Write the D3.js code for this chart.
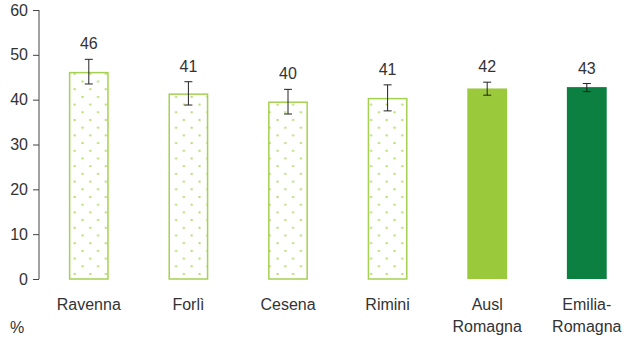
<!DOCTYPE html>
<html><head><meta charset="utf-8">
<script src="https://cdn.jsdelivr.net/npm/d3@7"></script>
<style>body{margin:0;background:#fff}svg{display:block;font-family:"Liberation Sans",Arial,sans-serif}</style>
</head><body>
<svg id="c" width="624" height="342"></svg>
<script>
const categories = ["Ravenna", "Forlì", "Cesena", "Rimini", "Ausl\nRomagna", "Emilia-\nRomagna"];
const values = [46.2, 41.4, 39.6, 40.4, 42.5, 42.8];
const labels = ["46", "41", "40", "41", "42", "43"];
const errLow = [43.5, 38.8, 36.8, 37.5, 41.0, 41.8];
const errHigh = [49.0, 44.0, 42.3, 43.3, 43.9, 43.6];
const styles = ["dots", "dots", "dots", "dots", "light", "dark"];
const yTicks = [0, 10, 20, 30, 40, 50, 60];

const svg = d3.select("#c");
const y = d3.scaleLinear().domain([0, 60]).range([279, 10]);
const x = d3.scaleBand().domain(categories).range([39, 636.6]).paddingInner(0.6).paddingOuter(0.3);

const defs = svg.append("defs");
const pat = defs.append("pattern").attr("id", "dots").attr("patternUnits", "userSpaceOnUse")
  .attr("width", 15.6).attr("height", 15.4).attr("x", 0).attr("y", 3.5);
pat.append("rect").attr("x", 3.5).attr("y", 0).attr("width", 2).attr("height", 2).attr("fill", "#b4da6e");
pat.append("rect").attr("x", 11.3).attr("y", 7.7).attr("width", 2).attr("height", 2).attr("fill", "#b4da6e");

const fills = {dots: "url(#dots)", light: "#9bc93c", dark: "#0b8040"};
const FS = 16;

const g = svg.append("g");
categories.forEach((c, i) => {
  const bx = x(c), bw = x.bandwidth();
  if (styles[i] === "dots") {
    g.append("rect").attr("x", bx + 0.75).attr("y", y(values[i]) + 0.75)
      .attr("width", bw - 1.5).attr("height", y(0) - y(values[i]) - 0.75)
      .attr("fill", "url(#dots)").attr("stroke", "#a5d151").attr("stroke-width", 1.5);
  } else {
    g.append("rect").attr("x", bx).attr("y", y(values[i]))
      .attr("width", bw).attr("height", y(0) - y(values[i]))
      .attr("fill", fills[styles[i]]);
  }
  const cx = bx + bw / 2;
  const eg = g.append("g").attr("stroke", "#222").attr("stroke-width", 1);
  eg.append("line").attr("x1", cx).attr("x2", cx).attr("y1", y(errHigh[i])).attr("y2", y(errLow[i]));
  eg.append("line").attr("x1", cx - 4).attr("x2", cx + 4).attr("y1", y(errHigh[i])).attr("y2", y(errHigh[i]));
  eg.append("line").attr("x1", cx - 4).attr("x2", cx + 4).attr("y1", y(errLow[i])).attr("y2", y(errLow[i]));
  g.append("text").attr("x", cx).attr("y", y(errHigh[i]) - 10).attr("text-anchor", "middle")
    .attr("font-size", FS).attr("fill", "#333").text(labels[i]);
  const t = g.append("text").attr("text-anchor", "middle").attr("font-size", FS).attr("fill", "#333");
  c.split("\n").forEach((ln, k) => {
    t.append("tspan").attr("x", cx).attr("y", 310 + k * 21.5).text(ln);
  });
});

const ax = svg.append("g").attr("transform", "translate(39,0)")
  .call(d3.axisLeft(y).tickValues(yTicks).tickSize(6).tickPadding(5).tickFormat(d3.format("d")));
ax.select(".domain").attr("stroke", "#444").attr("d", "M0," + y(60) + "V" + y(0));
ax.selectAll(".tick line").attr("stroke", "#444");
ax.selectAll(".tick text").attr("font-size", FS).attr("fill", "#333")
  .attr("font-family", "Liberation Sans, Arial, sans-serif");

svg.append("text").attr("x", 17).attr("y", 333).attr("text-anchor", "middle")
  .attr("font-size", FS).attr("fill", "#333").text("%");
</script>
</body></html>
